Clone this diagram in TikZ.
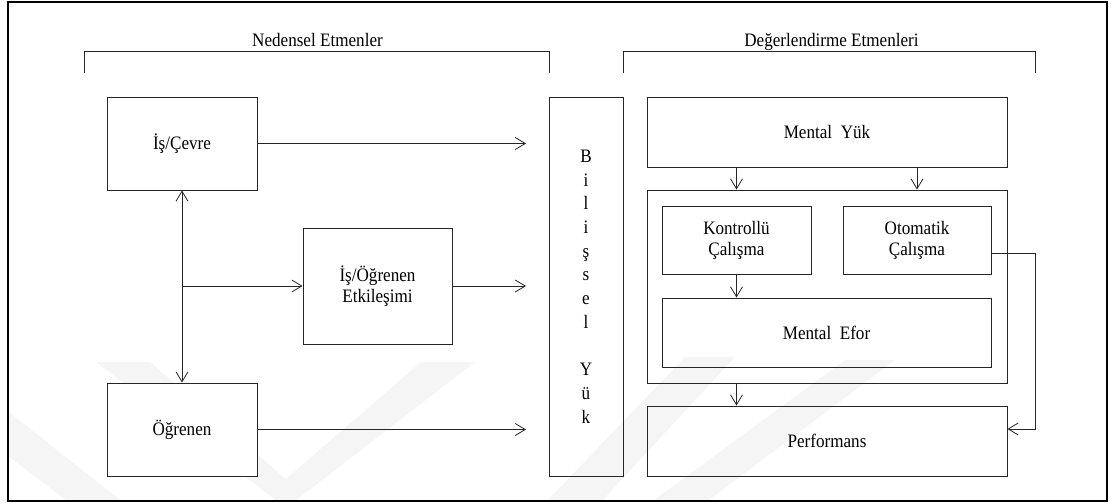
\documentclass[tikz,border=0pt]{standalone}
\usepackage{fontspec}
\setmainfont{Liberation Serif}[FakeStretch=0.9]
\usetikzlibrary{arrows.meta}
\begin{document}
\begin{tikzpicture}[x=1pt,y=-1pt,
  box/.style={draw=black!85, line width=0.9pt, inner sep=0pt, align=center,
    font=\fontsize{19}{21}\selectfont},
  lbl/.style={inner sep=0pt, font=\fontsize{19}{21}\selectfont},
  arr/.style={draw=black!85, line width=0.8pt, -{Straight Barb[length=10pt,width=12pt]}},
  darr/.style={draw=black!85, line width=0.8pt, {Straight Barb[length=10pt,width=12pt]}-{Straight Barb[length=10pt,width=12pt]}},
  brk/.style={draw=black!85, line width=0.9pt},
  wm/.style={fill=black!4, draw=none}
]
\useasboundingbox (0,0) rectangle (1111,503);
% faint watermark
\begin{scope}
\clip (8,2) rectangle (1107,501);
\fill[wm] (96,362) -- (150,362) -- (286,479) -- (421,362) -- (475,362) -- (286,508) -- cycle;
\fill[wm] (0,405) -- (124,503) -- (70,503) -- (0,450) -- cycle;
\fill[wm] (545,503) -- (600,503) -- (735,357) -- (685,357) -- cycle;
\fill[wm] (650,503) -- (705,503) -- (895,360) -- (845,360) -- cycle;
\end{scope}
\draw[line width=1.5pt] (8,2) rectangle (1107,501);

% titles and brackets
\node[lbl, anchor=base] (t1) at (317.5,47) {Nedensel Etmenler};
\node[lbl, anchor=base] (t2) at (831.5,47) {Değerlendirme Etmenleri};
\draw[brk] (84,73) -- (84,51) -- (549,51) -- (549,73);
\draw[brk] (623,73) -- (623,51) -- (1035,51) -- (1035,73);

% left boxes
\node[box, fill=white, minimum width=150pt, minimum height=93pt] (isc) at (182,143.5) {İş/Çevre};
\node[box, fill=white, minimum width=150pt, minimum height=93pt] (ogr) at (182,429.5) {Öğrenen};
\node[box, fill=white, minimum width=149pt, minimum height=116pt] (iso) at (377.5,286) {İş/Öğrenen\\Etkileşimi};

% cognitive load box
\node[box, minimum width=74pt, minimum height=379pt, font=\fontsize{19}{23.7}\selectfont] (bil) at (586,286.5)
  {B\\i\\l\\i\\ş\\s\\e\\l\\\mbox{}\\Y\\ü\\k};

% right boxes
\node[box, minimum width=360pt, minimum height=70pt] (my) at (827,132) {Mental~~Yük};
\node[box, minimum width=360pt, minimum height=193pt] (cont) at (827,286.5) {};
\node[box, minimum width=149pt, minimum height=68pt] (kc) at (736.5,240) {Kontrollü\\Çalışma};
\node[box, minimum width=148pt, minimum height=68pt] (oc) at (917,240) {Otomatik\\Çalışma};
\node[box, minimum width=329pt, minimum height=69pt] (me) at (826.5,332.5) {Mental~~Efor};
\node[box, minimum width=360pt, minimum height=70pt] (perf) at (827,441) {Performans};

% helper coordinates
\coordinate (tipx) at (526,0);
\coordinate (br) at (182,286);
\coordinate (rc) at (1035,253);
\coordinate (pin) at (1035,429);

% left connectors
\draw[arr] (isc.east) -- (isc.east -| tipx);
\draw[arr] (iso.east) -- (iso.east -| tipx);
\draw[arr] (ogr.east) -- (ogr.east -| tipx);
\draw[darr] (isc.south) -- (ogr.north);
\draw[arr] (br) -- (iso.west);

% right connectors
\draw[arr] (my.south -| kc.south) -- (cont.north -| kc.south);
\draw[arr] (my.south -| oc.south) -- (cont.north -| oc.south);
\draw[arr] (kc.south) -- (kc.south |- me.north);
\draw[arr] (cont.south -| kc.south) -- (perf.north -| kc.south);
\draw[arr] (oc.east |- rc) -- (rc) -- (pin) -- (perf.east |- pin);
\end{tikzpicture}
\end{document}
